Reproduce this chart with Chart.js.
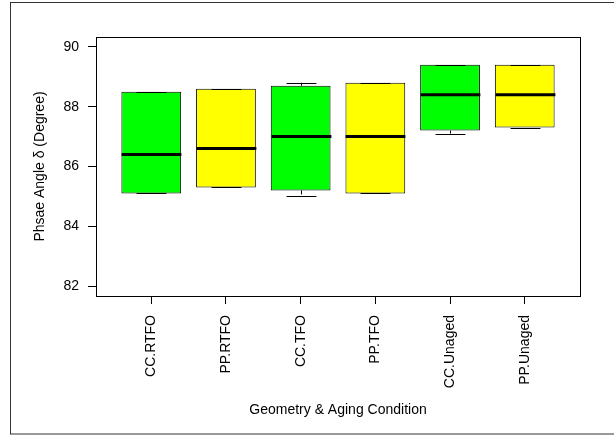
<!DOCTYPE html>
<html>
<head>
<meta charset="utf-8">
<script src="https://cdn.jsdelivr.net/npm/chart.js@4.4.1/dist/chart.umd.min.js"></script>
<style>
  body { margin: 0; background: #fff; }
</style>
</head>
<body>
<canvas id="boxChart" width="614" height="437"></canvas>
<script>
const categories = ['CC.RTFO', 'PP.RTFO', 'CC.TFO', 'PP.TFO', 'CC.Unaged', 'PP.Unaged'];
const positions = [1, 2, 3, 4, 5, 6];
const lowerWhisker = [85.1, 85.3, 85.0, 85.1, 87.1, 87.3];
const q1 = [85.1, 85.3, 85.2, 85.1, 87.2, 87.3];
const median = [86.4, 86.6, 87.0, 87.0, 88.4, 88.4];
const q3 = [88.5, 88.6, 88.7, 88.8, 89.4, 89.4];
const upperWhisker = [88.5, 88.6, 88.8, 88.8, 89.4, 89.4];
const boxColors = ['#00ff00', '#ffff00', '#00ff00', '#ffff00', '#00ff00', '#ffff00'];
const yTicks = [82, 84, 86, 88, 90];

const FONT = "'Liberation Sans', Arial, Helvetica, sans-serif";

// whiskers, staples, medians and the frames, drawn off the chart scales
const boxPlotExtras = {
  id: 'boxPlotExtras',
  afterDatasetsDraw(chart) {
    const { ctx, scales: { x, y }, chartArea } = chart;
    const meta = chart.getDatasetMeta(0);
    ctx.save();
    ctx.strokeStyle = '#000';
    positions.forEach((pos, i) => {
      const cx = Math.round(x.getPixelForValue(pos)) + 0.5;
      const half = meta.data[i].width / 2;
      const staple = half / 2;
      ctx.lineWidth = 1;
      ctx.setLineDash([4, 3]);
      ctx.beginPath();
      ctx.moveTo(cx, y.getPixelForValue(q3[i]));
      ctx.lineTo(cx, y.getPixelForValue(upperWhisker[i]));
      ctx.moveTo(cx, y.getPixelForValue(q1[i]));
      ctx.lineTo(cx, y.getPixelForValue(lowerWhisker[i]));
      ctx.stroke();
      ctx.setLineDash([]);
      ctx.beginPath();
      const yu = Math.round(y.getPixelForValue(upperWhisker[i])) + 0.5;
      const yl = Math.round(y.getPixelForValue(lowerWhisker[i])) + 0.5;
      ctx.moveTo(cx - staple, yu);
      ctx.lineTo(cx + staple, yu);
      ctx.moveTo(cx - staple, yl);
      ctx.lineTo(cx + staple, yl);
      ctx.stroke();
      ctx.lineWidth = 3;
      ctx.beginPath();
      const ym = y.getPixelForValue(median[i]);
      ctx.moveTo(cx - half, ym);
      ctx.lineTo(cx + half, ym);
      ctx.stroke();
    });
    ctx.lineWidth = 1;
    ctx.strokeRect(Math.round(chartArea.left) + 0.5, Math.round(chartArea.top) + 0.5,
      Math.round(chartArea.width), Math.round(chartArea.height));
    ctx.strokeStyle = '#333';
    ctx.strokeRect(10.5, 2.5, 700, 431.5);
    ctx.restore();
  },
};

new Chart(document.getElementById('boxChart'), {
  type: 'bar',
  data: {
    datasets: [{
      data: positions.map((pos, i) => ({ x: pos, y: [q1[i], q3[i]] })),
      backgroundColor: boxColors,
      borderColor: '#000',
      borderWidth: 1,
      borderSkipped: false,
      barPercentage: 0.8,
      categoryPercentage: 1,
    }],
  },
  options: {
    responsive: false,
    animation: false,
    layout: { padding: { left: 0, top: 37, right: 34, bottom: 0 } },
    plugins: {
      legend: { display: false },
      tooltip: { enabled: false },
    },
    scales: {
      x: {
        type: 'linear',
        min: 0.26,
        max: 6.74,
        offset: false,
        afterBuildTicks: (axis) => { axis.ticks = positions.map((v) => ({ value: v })); },
        afterFit: (axis) => { axis.height = 141; },
        grid: { drawOnChartArea: false, offset: false, tickLength: 8, color: '#000' },
        border: { display: true, color: '#000' },
        ticks: {
          autoSkip: false,
          minRotation: 90,
          maxRotation: 90,
          padding: 11,
          color: '#000',
          font: { family: FONT, size: 14 },
          callback: (value) => categories[value - 1],
        },
        title: {
          display: true,
          text: 'Geometry & Aging Condition',
          color: '#000',
          font: { family: FONT, size: 14 },
          padding: { top: 0, bottom: 18 },
        },
      },
      y: {
        min: 81.67,
        max: 90.33,
        afterBuildTicks: (axis) => { axis.ticks = yTicks.map((v) => ({ value: v })); },
        afterFit: (axis) => { axis.width = 96; },
        grid: { drawOnChartArea: false, tickLength: 8, color: '#000' },
        border: { display: true, color: '#000' },
        ticks: {
          padding: 9,
          color: '#000',
          font: { family: FONT, size: 14 },
        },
        title: {
          display: true,
          text: 'Phsae Angle δ (Degree)',
          color: '#000',
          font: { family: FONT, size: 14 },
          padding: { top: 32, bottom: 0 },
        },
      },
    },
  },
  plugins: [boxPlotExtras],
});
</script>
</body>
</html>
